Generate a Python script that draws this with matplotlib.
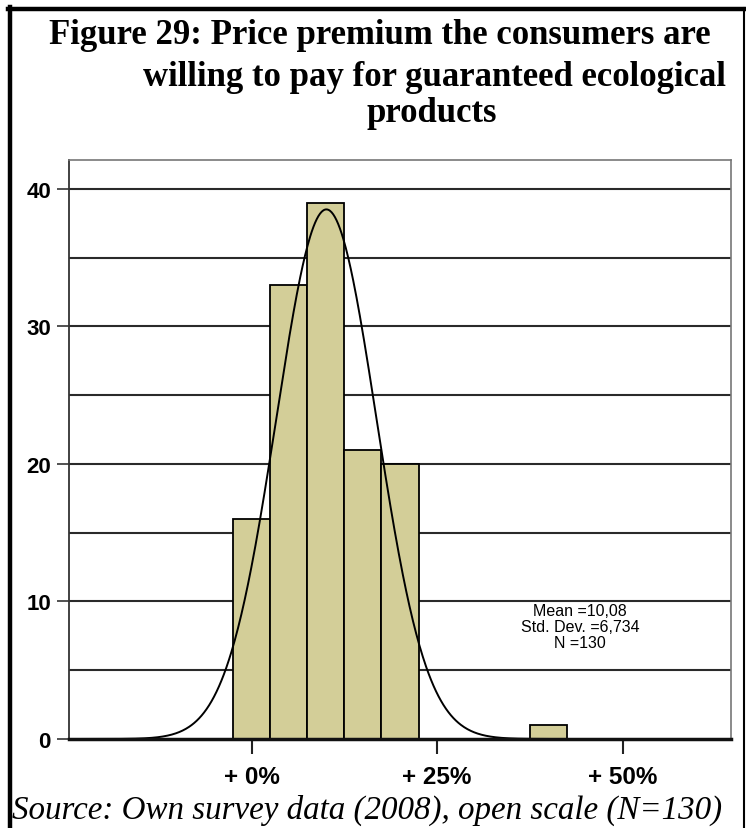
import numpy as np
import matplotlib
matplotlib.use("Agg")
import matplotlib.pyplot as plt
from matplotlib.lines import Line2D

# ---- data ----
bin_centers = [0, 5, 10, 15, 20, 40]
counts = [16, 33, 39, 21, 20, 1]
bin_width = 5
mean_val = 10.08
sd_val = 6.734
n_val = 130
x_ticks = [0, 25, 50]
x_tick_labels = ["+ 0%", "+ 25%", "+ 50%"]
y_ticks = [0, 10, 20, 30, 40]
title_lines = ["Figure 29: Price premium the consumers are",
               "willing to pay for guaranteed ecological",
               "products"]
source_text = "Source: Own survey data (2008), open scale (N=130)"
stats_lines = ["Mean =10,08", "Std. Dev. =6,734", "N =130"]

W, H = 746, 829
fig = plt.figure(figsize=(W / 100, H / 100), dpi=100)
fig.patch.set_facecolor("white")

def fx(px):
    return px / W

def fy(py):
    return 1 - py / H

# axes in pixel coords
L, R, T, B = 69, 731, 161, 740
ax = fig.add_axes([fx(L), fy(B), fx(R - L), (B - T) / H])

bar_color = "#d3ce98"
ax.bar(bin_centers, counts, width=bin_width, color=bar_color,
       edgecolor="black", linewidth=1.3, zorder=3)

xmin, xmax = -24.6, 64.6
xs = np.linspace(xmin, xmax, 800)
ys = n_val * bin_width / (sd_val * np.sqrt(2 * np.pi)) * np.exp(-0.5 * ((xs - mean_val) / sd_val) ** 2)
ax.plot(xs, ys, color="black", linewidth=1.4, zorder=4)

ax.set_xlim(xmin, xmax)
ax.set_ylim(0, 42.1)

# grid lines every 5
for g in range(5, 45, 5):
    ax.axhline(g, color="#2a2a2a", linewidth=1.5, zorder=1)

ax.set_yticks(y_ticks)
ax.set_yticklabels([str(v) for v in y_ticks], fontsize=16, fontweight="bold",
                   family="Liberation Sans")
ax.tick_params(axis="y", length=9, width=1.2, color="#333333", pad=4)
ax.set_xticks(x_ticks)
ax.set_xticklabels(x_tick_labels, fontsize=17.5, fontweight="bold",
                   family="Liberation Sans")
ax.tick_params(axis="x", length=11, width=1.5, color="#222222", pad=8)

for s in ["top", "right"]:
    ax.spines[s].set_color("#777777")
    ax.spines[s].set_linewidth(1.2)
ax.spines["left"].set_color("#333333")
ax.spines["left"].set_linewidth(1.3)
ax.spines["bottom"].set_color("#111111")
ax.spines["bottom"].set_linewidth(2.5)
ax.spines["bottom"].set_zorder(5)

for i, line in enumerate(stats_lines):
    fig.text(fx(580), fy(612 + 16 * i), line, fontsize=11.5,
             family="Liberation Sans", ha="center", va="center")

# title
tfont = dict(family="Liberation Serif", fontweight="bold", fontsize=25)
fig.text(fx(380), fy(36), title_lines[0], ha="center", va="center", **tfont)
fig.text(fx(434), fy(78), title_lines[1], ha="center", va="center", **tfont)
fig.text(fx(432), fy(114), title_lines[2], ha="center", va="center", **tfont)

# source
fig.text(fx(12), fy(810), source_text, ha="left", va="center",
         family="Liberation Serif", style="italic", fontsize=23.8)

# figure border
fig.add_artist(Line2D([fx(10), fx(10)], [fy(8), 0], color="black", linewidth=3.2,
                      transform=fig.transFigure))
fig.add_artist(Line2D([fx(8), fx(745)], [fy(10), fy(10)], color="black", linewidth=3.2,
                      transform=fig.transFigure))
fig.add_artist(Line2D([fx(744), fx(744)], [fy(9), 0], color="black", linewidth=1.5,
                      transform=fig.transFigure))

fig.savefig("out.png", dpi=100)
